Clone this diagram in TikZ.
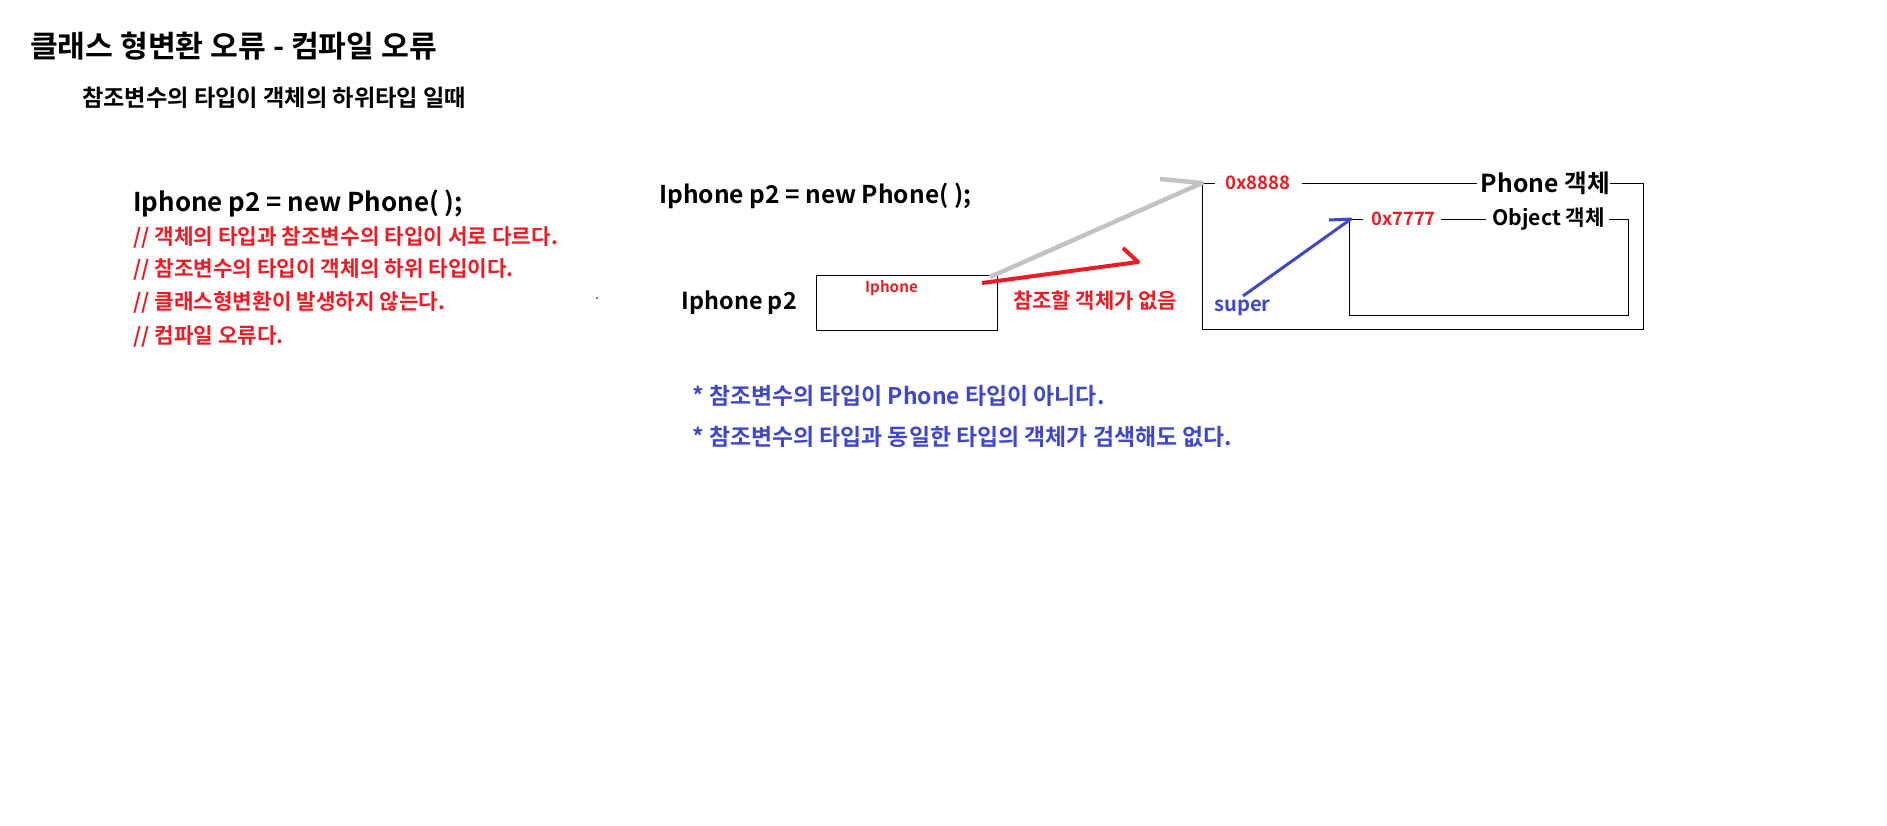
\documentclass[tikz,border=0pt]{standalone}
\usepackage{fontspec}
\setmainfont{Noto Sans CJK KR}[BoldFont=* Bold]
\usetikzlibrary{positioning}
\definecolor{errred}{HTML}{ED1C24}
\definecolor{noteblue}{HTML}{3F48CC}
\definecolor{refgray}{HTML}{C3C3C3}

\begin{document}
\begin{tikzpicture}[x=1pt, y=-1pt,
  every node/.style={inner sep=0pt, anchor=west},
  headline/.style={font=\fontsize{30.2}{34}\selectfont\bfseries},
  subhead/.style={font=\fontsize{23.2}{27}\selectfont\bfseries},
  codeline/.style={font=\fontsize{24.5}{28}\selectfont\bfseries},
  comment/.style={font=\fontsize{21.3}{25}\selectfont\bfseries, text=errred},
  note/.style={font=\fontsize{22.9}{27}\selectfont\bfseries, text=noteblue},
  addr/.style={font=\fontsize{18.6}{22}\selectfont\bfseries, text=errred},
  objlabel/.style={font=\fontsize{24.7}{28}\selectfont\bfseries}]
  \useasboundingbox (0,0) rectangle (1887,825);

  % ── Heading ─────────────────────────────────────────────
  \node[headline] (title) at (30,46) {클래스 형변환 오류 - 컴파일 오류};
  \node[subhead] (sub) at (82,98) {참조변수의 타입이 객체의 하위타입 일때};

  % ── Left: code and comments ─────────────────────────────
  \node[codeline, font=\fontsize{25.9}{30}\selectfont\bfseries] (code1) at (133,203) {Iphone p2 = new Phone( );};
  \foreach \i/\y/\t in {
    1/237/{// 객체의 타입과 참조변수의 타입이 서로 다르다.},
    2/269/{// 참조변수의 타입이 객체의 하위 타입이다.},
    3/302/{// 클래스형변환이 발생하지 않는다.},
    4/336/{// 컴파일 오류다.}}{
    \node[comment] (cm\i) at (133,\y) {\t};
  }
  \fill (597,298) circle (0.8);

  % ── Middle: reference variable ──────────────────────────
  \node[codeline] (code2) at (659,196) {Iphone p2 = new Phone( );};
  \node[draw, line width=1pt, anchor=north west, minimum width=181pt,
        minimum height=55pt] (var) at (816,275) {};
  \node[codeline, font=\fontsize{23.4}{27}\selectfont\bfseries, left=19pt of var] (varname) {Iphone p2};
  \node[font=\fontsize{15.2}{18}\selectfont\bfseries, text=errred] (vtype) at (865,288) {Iphone};
  \node[comment, font=\fontsize{21}{25}\selectfont\bfseries] (noref) at (1013,301) {참조할 객체가 없음};

  % ── Right: Phone object with Object inside ──────────────
  \node[addr] (a8) at (1225,183) {0x8888};
  \node[objlabel, anchor=east] (pobj) at (1610,183) {Phone 객체};
  \draw[line width=1pt] (1215,183) -- (1202,183) -- (1202,329) -- (1643,329)
    -- (1643,183) -- (pobj.east);
  \draw[line width=1pt] (1302,183) -- ([xshift=-4pt]pobj.west);

  \node[addr, font=\fontsize{18.4}{22}\selectfont\bfseries] (a7) at (1371,219) {0x7777};
  \node[objlabel, font=\fontsize{21.2}{25}\selectfont\bfseries, anchor=east] (oobj) at (1605,219) {Object 객체};
  \draw[line width=1pt] (1363,219) -- (1349,219) -- (1349,315) -- (1628,315)
    -- (1628,219) -- ([xshift=4pt]oobj.east);
  \draw[line width=1pt] ([xshift=5pt]a7.east) -- ([xshift=-6pt]oobj.west);

  \node[note, font=\fontsize{20.2}{24}\selectfont\bfseries] (super) at (1214,308) {super};

  % ── Connectors ──────────────────────────────────────────
  \coordinate (src) at (990,277);
  \coordinate (gtip) at (1202,183);
  \coordinate (rtail) at (982,283);
  \coordinate (rtip) at (1138,262);
  \coordinate (stail) at (1243,296);
  \coordinate (stip) at (1351,219);
  \draw[refgray, line width=4.5pt, line join=round] (src) -- (gtip) -- ++(-42,-4);
  \draw[errred, line width=4pt, line join=round] (rtail) -- (rtip) -- ++(-15,-14);
  \draw[noteblue, line width=3pt, line join=round] (stail) -- (stip) -- ++(-22,1);

  % ── Notes ───────────────────────────────────────────────
  \node[note] (n1) at (692,396) {* 참조변수의 타입이 Phone 타입이 아니다.};
  \node[note] (n2) at (692,437) {* 참조변수의 타입과 동일한 타입의 객체가 검색해도 없다.};
\end{tikzpicture}
\end{document}
